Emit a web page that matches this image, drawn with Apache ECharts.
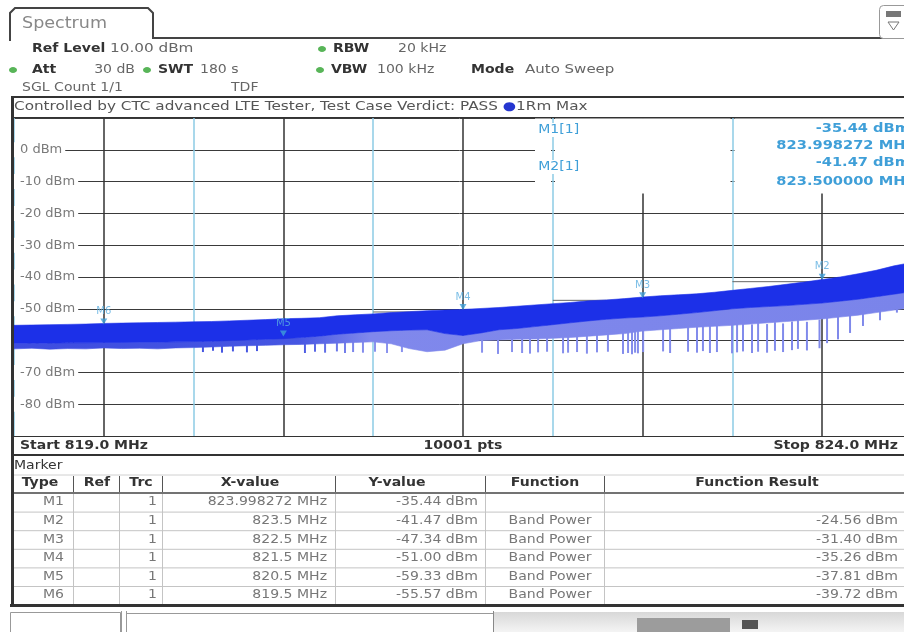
<!DOCTYPE html>
<html><head><meta charset="utf-8">
<script src="https://cdn.jsdelivr.net/npm/echarts@6/dist/echarts.min.js"></script>
<style>html,body{margin:0;padding:0;background:#fff}#c{width:904px;height:632px}</style>
</head><body><div id="c"></div>
<script>
// ---------- data ----------
const freqs = [819.0,819.1,819.2,819.3,819.4,819.5,819.6,819.7,819.8,819.9,
  820.0,820.1,820.2,820.3,820.4,820.5,820.6,820.7,820.8,820.9,
  821.0,821.1,821.2,821.3,821.4,821.5,821.6,821.7,821.8,821.9,
  822.0,822.1,822.2,822.3,822.4,822.5,822.6,822.7,822.8,822.9,
  823.0,823.1,823.2,823.3,823.4,823.5,823.6,823.7,823.8,823.9,824.0];
const traceTop = [-55.2,-55.1,-55.0,-54.9,-54.8,-54.6,-54.5,-54.4,-54.3,-54.2,
  -54.1,-54.0,-53.8,-53.6,-53.4,-53.1,-53.0,-52.8,-52.2,-51.9,
  -51.6,-51.2,-50.9,-50.6,-50.4,-50.2,-49.9,-49.6,-49.2,-48.8,
  -48.4,-48.0,-47.5,-47.2,-46.8,-46.3,-45.9,-45.6,-45.3,-44.8,
  -44.2,-43.6,-43.0,-42.3,-41.6,-40.8,-40.0,-39.0,-37.9,-36.5,-35.4];
const traceDarkBottom = [-60.8,-60.8,-60.8,-60.7,-60.7,-60.6,-60.6,-60.5,-60.5,-60.4,
  -60.3,-60.2,-60.0,-59.8,-59.6,-59.4,-59.0,-58.6,-58.0,-57.6,
  -57.2,-56.9,-56.7,-56.6,-57.8,-58.4,-57.6,-56.6,-56.2,-55.6,
  -55.0,-54.4,-53.8,-53.3,-52.9,-52.6,-52.2,-51.7,-51.2,-50.6,
  -50.0,-49.6,-49.3,-49.0,-48.6,-48.2,-47.6,-47.0,-46.2,-45.4,-44.6];
const traceFringeBottom = [-62.6,-62.4,-62.7,-62.5,-62.6,-62.3,-62.5,-62.4,-62.6,-62.3,
  -62.2,-62.0,-61.8,-61.6,-61.5,-61.3,-61.2,-61.0,-60.8,-60.6,
  -60.4,-61.0,-62.5,-63.5,-63.0,-61.0,-60.0,-59.8,-59.6,-59.5,
  -59.3,-59.0,-58.6,-58.2,-57.8,-57.0,-56.6,-56.2,-55.8,-55.5,
  -55.2,-54.8,-54.4,-54.0,-53.6,-53.2,-52.6,-52.0,-51.2,-50.4,-49.6];
const spikeFreqs = [820.052,820.108,820.158,820.219,820.297,820.353,820.620,820.676,820.732,820.798,
  820.843,820.888,820.943,821.010,821.077,821.160,
  821.606,821.695,821.773,821.829,821.873,821.918,821.968,822.057,822.085,822.135,
  822.190,822.246,822.307,822.391,822.419,822.441,822.458,822.474,822.503,822.614,
  822.653,822.753,822.803,822.836,822.875,822.914,822.998,823.026,823.059,823.109,
  823.143,823.193,823.237,823.282,823.332,823.365,823.415,823.485,823.527,823.588,
  823.655,823.727,823.822,823.916];
const spikeDepths = [-63.6,-63.2,-63.8,-63.4,-63.7,-63.3,-63.9,-63.5,-63.8,-63.4,
  -63.9,-63.6,-63.8,-63.5,-63.9,-63.6,
  -63.8,-64.2,-63.6,-63.9,-64.1,-63.7,-63.5,-64.0,-63.8,-63.6,
  -64.1,-63.7,-63.5,-64.2,-63.9,-64.3,-63.8,-64.0,-63.6,-63.4,
  -63.9,-63.5,-63.8,-63.3,-63.9,-63.6,-64.0,-63.7,-63.4,-63.9,
  -63.5,-63.8,-63.2,-63.6,-63.0,-62.6,-63.1,-62.4,-60.8,-59.6,
  -57.6,-55.4,-53.6,-51.2];
const markerNames = ['M1','M2','M3','M4','M5','M6'];
const markerTraces = ['1','1','1','1','1','1'];
const markerFreqs = [823.998272, 823.5, 822.5, 821.5, 820.5, 819.5];
const markerXLabels = ['823.998272 MHz','823.5 MHz','822.5 MHz','821.5 MHz','820.5 MHz','819.5 MHz'];
const markerLevels = [-35.44, -41.47, -47.34, -51.00, -59.33, -55.57];
const markerFunctions = ['', 'Band Power','Band Power','Band Power','Band Power','Band Power'];
const bandPowers = [null, -24.56, -31.40, -35.26, -37.81, -39.72];
const bandSpan = 1.0;
const yMin = -90, yMax = 10, yStep = 10;
const xStart = 819.0, xStop = 824.0, xStep = 0.5;
const sweepPoints = 10001;

// ---------- helpers ----------
const FF = '"DejaVu Sans", Verdana, sans-serif';
const S = 1.17;
function T(x, y, text, o) {
  o = o || {};
  const size = o.size || 12;
  const st = { text: text, fill: o.color || '#666', font: (o.bold ? 'bold ' : '') + size + 'px ' + FF,
    align: o.align || 'left', textAlign: o.align || 'left', verticalAlign: 'middle', textVerticalAlign: 'middle' };
  if (o.bg) { st.backgroundColor = o.bg; st.padding = o.pad || [1, 2]; }
  if (o.rich) st.rich = o.rich;
  return { type: 'text', x: x, y: y, z: 100, scaleX: o.sx || S, silent: true, style: st };
}
function L(x1, y1, x2, y2, c, w, z) {
  return { type: 'line', z: z || 90, silent: true, shape: { x1, y1, x2, y2 }, style: { stroke: c, lineWidth: w || 1 } };
}
function R(x, y, w, h, fill, stroke, z, r) {
  return { type: 'rect', z: z || 90, silent: true, shape: { x, y, width: w, height: h, r: r || 0 }, style: { fill: fill, stroke: stroke || null, lineWidth: 1 } };
}
const grad = (stops) => ({ type: 'linear', x: 0, y: 0, x2: 904, y2: 0, global: true,
  colorStops: stops.map(s => ({ offset: s[0], color: s[1] })) });
const fringeFill = grad([[0, '#3d4ce0'], [0.33, '#4656e2'], [0.41, '#8088ec'], [1, '#7a84ea']]);
const spikeStroke = grad([[0, '#3a4ade'], [0.33, '#4a5ae2'], [0.41, '#8a92ee'], [1, '#7e88ea']]);
const darkFill = '#1c30e8';

function bandSeries(upper, lower, fill) {
  return {
    type: 'custom', coordinateSystem: 'cartesian2d', silent: true, clip: true,
    data: [[freqs[0], upper[0]]],
    renderItem: function (params, api) {
      const pts = [];
      for (let i = 0; i < freqs.length; i++) pts.push(api.coord([freqs[i], upper[i]]));
      for (let i = freqs.length - 1; i >= 0; i--) pts.push(api.coord([freqs[i], lower[i]]));
      return { type: 'polygon', shape: { points: pts }, style: { fill: fill, stroke: fill, lineWidth: 0.6 } };
    }
  };
}

// ---------- graphic chrome ----------
const g = [];
g.push({ type: 'polyline', z: 90, silent: true, shape: { points: [[10, 41], [10, 13], [15, 8], [148, 8], [153, 13], [153, 38], [904, 38]] }, style: { stroke: '#444', lineWidth: 2, fill: null } });
g.push(T(22, 24, 'Spectrum', { size: 15, color: '#888' }));
g.push(R(879.5, 5.5, 30, 33, '#fff', '#999', 91, 4));
g.push(R(886, 11, 15, 6, '#777', null, 92));
g.push({ type: 'polygon', z: 92, silent: true, shape: { points: [[888, 22], [899, 22], [893.5, 30]] }, style: { fill: '#fff', stroke: '#777', lineWidth: 1 } });
const green = '#58b558';
[[322, 49], [13, 70], [147, 70], [320, 70]].forEach(p => g.push({ type: 'ellipse', z: 95, silent: true, shape: { cx: p[0], cy: p[1], rx: 4, ry: 3 }, style: { fill: green } }));
g.push(T(32, 49, 'Ref Level', { bold: true, color: '#333' }));
g.push(T(110, 49, '10.00 dBm', { sx: 1.27 }));
g.push(T(333, 49, 'RBW', { bold: true, color: '#333' }));
g.push(T(398, 49, '20 kHz'));
g.push(T(32, 70, 'Att', { bold: true, color: '#333' }));
g.push(T(135, 70, '30 dB', { align: 'right' }));
g.push(T(158, 70, 'SWT', { bold: true, color: '#333' }));
g.push(T(200, 70, '180 s'));
g.push(T(331, 70, 'VBW', { bold: true, color: '#333' }));
g.push(T(377, 70, '100 kHz'));
g.push(T(471, 70, 'Mode', { bold: true, color: '#333' }));
g.push(T(525, 70, 'Auto Sweep', { sx: 1.25 }));
g.push(T(22, 88, 'SGL Count 1/1'));
g.push(T(231, 88, 'TDF'));
g.push(T(14, 107, 'Controlled by CTC advanced LTE Tester, Test Case Verdict: PASS {d|●}1Rm Max', {
  color: '#555', sx: 1.27, rich: { d: { fill: '#2536d0', font: '12px ' + FF } } }));
g.push(L(12, 97, 904, 97, '#333', 2));
g.push(L(12, 117.5, 904, 117.5, '#333', 1));
g.push(L(12.5, 96, 12.5, 607, '#333', 3));
g.push(L(12, 436.5, 904, 436.5, '#333', 1));
g.push(L(12, 455, 904, 455, '#333', 2));
// marker info area (covers grid at top right, leaving band edge lines visible)
g.push(R(535, 118.5, 16, 75, '#fff', null, 1));
g.push(R(555, 118.5, 175.5, 75, '#fff', null, 1));
g.push(R(734.5, 118.5, 180, 75, '#fff', null, 1));
const mc = '#3f9fd8';
g.push(T(537, 130, markerNames[0] + '[1]', { color: mc, bg: '#fff', pad: [1, 1] }));
g.push(T(537, 167, markerNames[1] + '[1]', { color: mc, bg: '#fff', pad: [1, 1] }));
g.push(T(910, 129, markerLevels[0].toFixed(2) + ' dBm', { color: mc, bold: true, align: 'right', size: 12, sx: 1.22 }));
g.push(T(914, 146, markerFreqs[0].toFixed(6) + ' MHz', { color: mc, bold: true, align: 'right', size: 12, sx: 1.22 }));
g.push(T(910, 163, markerLevels[1].toFixed(2) + ' dBm', { color: mc, bold: true, align: 'right', size: 12, sx: 1.22 }));
g.push(T(914, 182, markerFreqs[1].toFixed(6) + ' MHz', { color: mc, bold: true, align: 'right', size: 12, sx: 1.22 }));
g.push(T(20, 446, 'Start ' + xStart.toFixed(1) + ' MHz', { bold: true, color: '#333' }));
g.push(T(463, 446, sweepPoints + ' pts', { bold: true, color: '#333', align: 'center' }));
g.push(T(898, 446, 'Stop ' + xStop.toFixed(1) + ' MHz', { bold: true, color: '#333', align: 'right' }));
// marker table
g.push(T(14, 466, 'Marker', { color: '#333' }));
const colSep = [73, 119, 162, 335, 485, 604];
const rowTop = 493, rowH = 18.6;
g.push(L(14, 475, 904, 475, '#d0d0d0', 1));
g.push(L(14, 493, 904, 493, '#444', 1.5));
colSep.forEach(x => { g.push(L(x + 0.5, 476, x + 0.5, 492, '#555', 1)); g.push(L(x + 0.5, 494, x + 0.5, 604, '#c4c4c4', 1)); });
for (let i = 1; i < markerNames.length; i++) g.push(L(14, rowTop + rowH * i + 0.5, 904, rowTop + rowH * i + 0.5, '#c4c4c4', 1));
g.push(L(10, 605.5, 904, 605.5, '#333', 3));
const heads = [['Type', 40], ['Ref', 97], ['Trc', 141], ['X-value', 250], ['Y-value', 397], ['Function', 545], ['Function Result', 757]];
heads.forEach(h => g.push(T(h[1], 483, h[0], { bold: true, color: '#333', align: 'center' })));
markerNames.forEach((n, i) => {
  const y = rowTop + rowH * i + rowH / 2;
  g.push(T(64, y, n, { align: 'right', color: '#777' }));
  g.push(T(157, y, markerTraces[i], { align: 'right', color: '#777' }));
  g.push(T(327, y, markerXLabels[i], { align: 'right', color: '#777' }));
  g.push(T(478, y, markerLevels[i].toFixed(2) + ' dBm', { align: 'right', color: '#777' }));
  if (markerFunctions[i]) g.push(T(550, y, markerFunctions[i], { align: 'center', color: '#777' }));
  if (bandPowers[i] !== null) g.push(T(898, y, bandPowers[i].toFixed(2) + ' dBm', { align: 'right', color: '#777' }));
});
g.push(R(10.5, 612.5, 110, 24, '#fff', '#999', 90));
g.push(L(121.5, 611, 121.5, 632, '#999', 1));
g.push(L(126.5, 611, 126.5, 632, '#999', 1));
g.push(L(126, 613.5, 493, 613.5, '#999', 1));
g.push({ type: 'rect', z: 89, silent: true, shape: { x: 493, y: 612, width: 411, height: 20 },
  style: { fill: { type: 'linear', x: 0, y: 0, x2: 0, y2: 1, colorStops: [{ offset: 0, color: '#d8d8d8' }, { offset: 1, color: '#f4f4f4' }] } } });
g.push(L(493.5, 611, 493.5, 632, '#888', 1));
g.push(R(637, 618, 93, 14, '#9c9c9c', null, 91));
g.push(R(742, 620, 16, 9, '#555', null, 91));

// ---------- chart ----------
const chart = echarts.init(document.getElementById('c'), null, { renderer: 'canvas' });
chart.setOption({
  animation: false,
  backgroundColor: '#fff',
  grid: { left: 14, top: 118, width: 898, height: 318, containLabel: false, outerBoundsMode: 'none' },
  xAxis: {
    type: 'value', min: xStart, max: xStop, interval: xStep,
    axisLine: { show: false }, axisTick: { show: false }, axisLabel: { show: false },
    splitLine: { show: true, lineStyle: { color: ['#8ccbe4', '#333'], width: 1.5 } }
  },
  yAxis: {
    type: 'value', min: yMin, max: yMax, interval: yStep,
    axisLine: { show: false }, axisTick: { show: false },
    axisLabel: { inside: true, margin: 0, formatter: '{value} dBm', showMinLabel: false, showMaxLabel: false,
      color: '#7a7a7a', fontSize: 13, fontFamily: 'DejaVu Sans', backgroundColor: '#fff', padding: [1, 3, 1, 6] },
    splitLine: { show: true, lineStyle: { color: '#3a3a3a', width: 1 } }
  },
  series: [
    {
      type: 'custom', coordinateSystem: 'cartesian2d', silent: true, clip: true,
      data: markerFreqs.map((f, i) => [f, markerLevels[i]]).filter((d, i) => bandPowers[i] !== null),
      renderItem: function (params, api) {
        const p1 = api.coord([api.value(0) - bandSpan / 2, api.value(1)]);
        const p2 = api.coord([api.value(0) + bandSpan / 2, api.value(1)]);
        return { type: 'line', shape: { x1: p1[0], y1: p1[1], x2: p2[0], y2: p2[1] }, style: { stroke: '#666', lineWidth: 1 } };
      }
    },
    {
      type: 'custom', coordinateSystem: 'cartesian2d', silent: true, clip: true,
      data: spikeFreqs.map((f, i) => [f, spikeDepths[i]]),
      renderItem: function (params, api) {
        const p1 = api.coord([api.value(0), api.value(1)]);
        const p2 = api.coord([api.value(0), api.value(1) + 9]);
        return { type: 'line', shape: { x1: p1[0], y1: p1[1], x2: p2[0], y2: p2[1] }, style: { stroke: spikeStroke, lineWidth: 2 } };
      }
    },
    bandSeries(traceDarkBottom, traceFringeBottom, fringeFill),
    bandSeries(traceTop, traceDarkBottom, darkFill),
    {
      type: 'scatter', silent: true,
      data: markerNames.map((n, i) => ({ name: n, value: [markerFreqs[i], markerLevels[i]] })),
      symbol: 'triangle', symbolRotate: 180, symbolSize: [7, 6], symbolOffset: [0, -5],
      itemStyle: { color: '#3f9fd8' },
      label: { show: true, position: 'top', distance: 2, formatter: '{b}', color: '#5aaee0', fontSize: 10, fontFamily: 'DejaVu Sans' }
    }
  ],
  graphic: { elements: g }
});
</script>
</body></html>
